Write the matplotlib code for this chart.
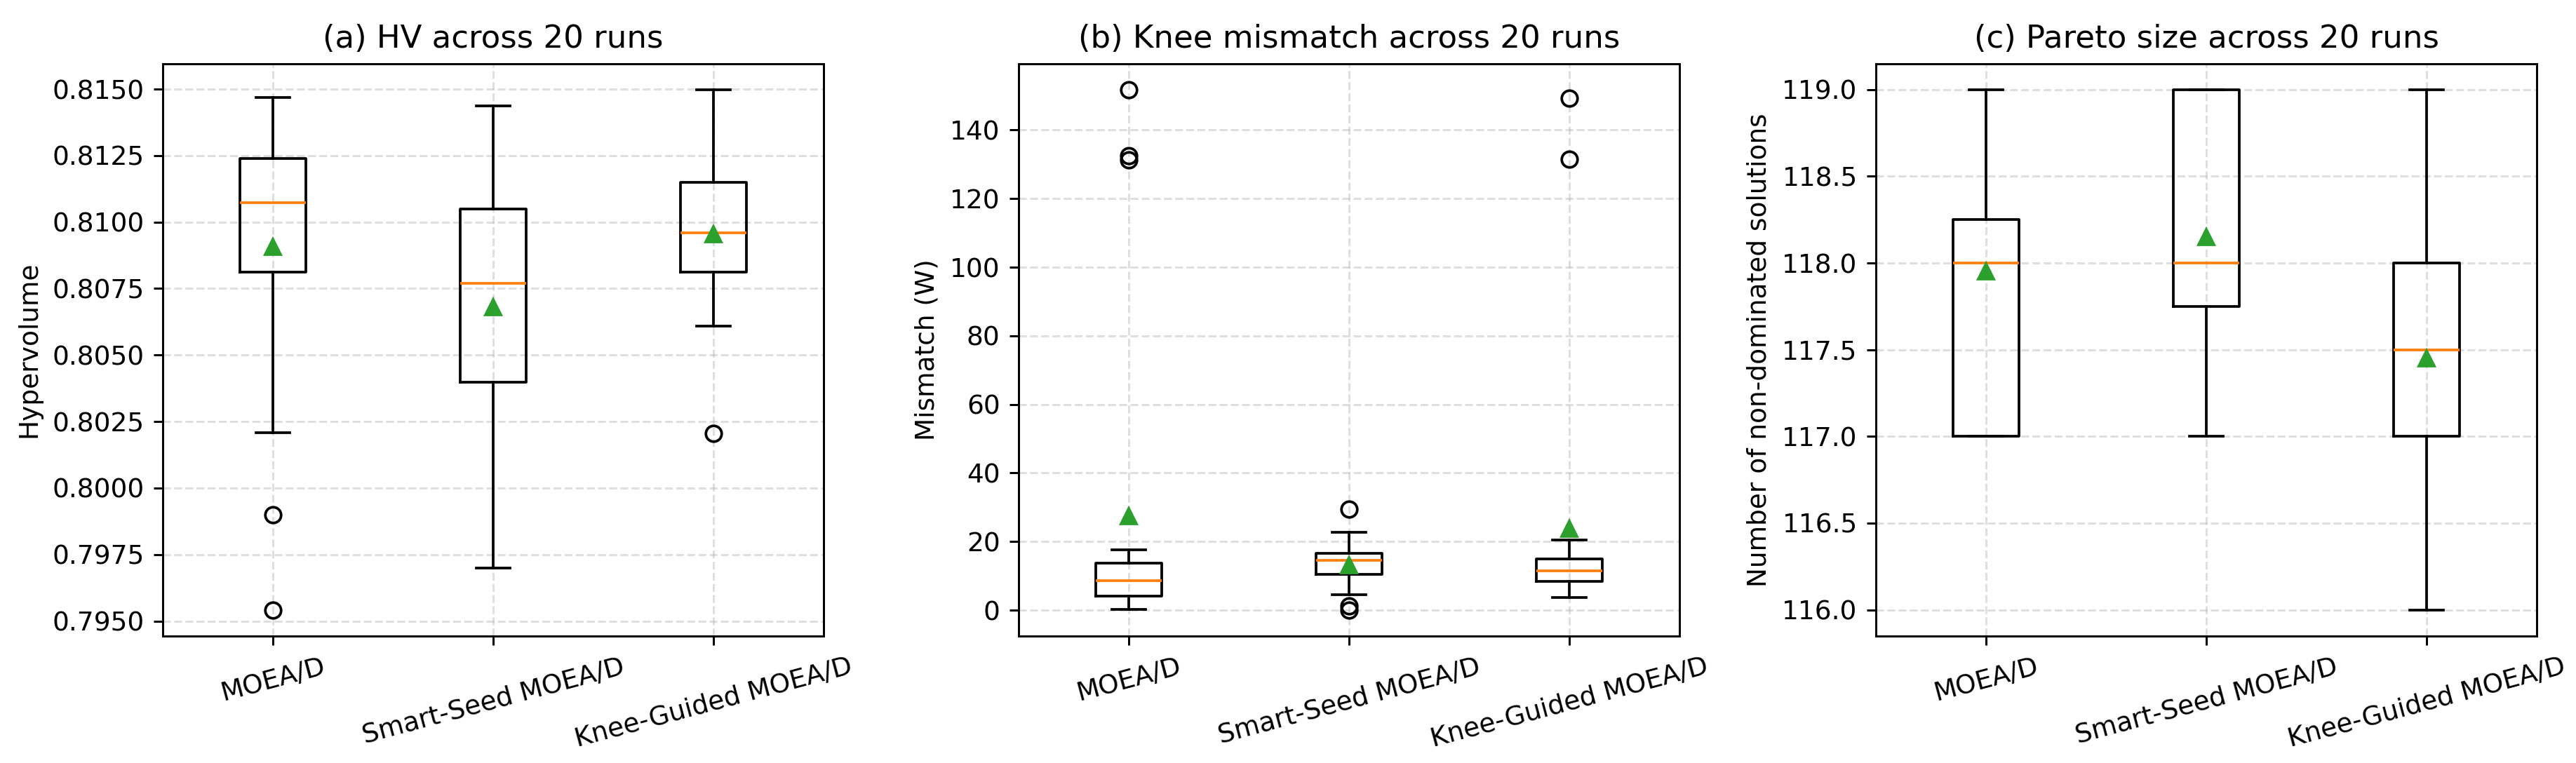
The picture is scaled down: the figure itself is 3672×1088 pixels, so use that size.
import matplotlib
matplotlib.use("Agg")
import matplotlib.pyplot as plt

methods = ["MOEA/D", "Smart-Seed MOEA/D", "Knee-Guided MOEA/D"]

# (a) Hypervolume
hv_whislo = [0.80209, 0.79698, 0.80608]
hv_q1 = [0.80813, 0.80398, 0.80813]
hv_med = [0.81072, 0.80771, 0.80959]
hv_q3 = [0.81239, 0.81048, 0.81149]
hv_whishi = [0.81469, 0.81436, 0.81498]
hv_mean = [0.80906, 0.80681, 0.80955]
hv_fliers = [[0.79900, 0.79542], [], [0.80206]]

# (b) Knee mismatch (W)
mm_whislo = [0.3, 4.5, 3.8]
mm_q1 = [4.1, 10.5, 8.5]
mm_med = [8.7, 14.5, 11.5]
mm_q3 = [13.8, 16.5, 15.0]
mm_whishi = [17.7, 22.7, 20.4]
mm_mean = [27.4, 13.2, 23.8]
mm_fliers = [[151.8, 132.5, 131.3], [29.5, 1.2, 0.1], [149.4, 131.5]]

# (c) Pareto size
ps_whislo = [117.0, 117.0, 116.0]
ps_q1 = [117.0, 117.75, 117.0]
ps_med = [118.0, 118.0, 117.5]
ps_q3 = [118.25, 119.0, 118.0]
ps_whishi = [119.0, 119.0, 119.0]
ps_mean = [117.95, 118.15, 117.45]
ps_fliers = [[], [], []]

titles = ["(a) HV across 20 runs", "(b) Knee mismatch across 20 runs",
          "(c) Pareto size across 20 runs"]
ylabels = ["Hypervolume", "Mismatch (W)", "Number of non-dominated solutions"]

panels = [
    (hv_whislo, hv_q1, hv_med, hv_q3, hv_whishi, hv_mean, hv_fliers),
    (mm_whislo, mm_q1, mm_med, mm_q3, mm_whishi, mm_mean, mm_fliers),
    (ps_whislo, ps_q1, ps_med, ps_q3, ps_whishi, ps_mean, ps_fliers),
]

DPI = 270
fig = plt.figure(figsize=(3672 / DPI, 1088 / DPI), dpi=DPI)
lefts = [232 / 3672, 1452 / 3672, 2674 / 3672]
W = 942 / 3672
B = (1088 - 906.7) / 1088
H = 816 / 1088

for i, (lo, q1, med, q3, hi, mean, fl) in enumerate(panels):
    ax = fig.add_axes([lefts[i], B, W, H])
    stats = []
    for j in range(3):
        stats.append(dict(label=methods[j], whislo=lo[j], q1=q1[j], med=med[j],
                          q3=q3[j], whishi=hi[j], mean=mean[j], fliers=fl[j]))
    ax.bxp(stats, showmeans=True)
    ax.set_title(titles[i], fontsize=12)
    ax.set_ylabel(ylabels[i], fontsize=10)
    ax.grid(True, linestyle="--", alpha=0.4)
    plt.setp(ax.get_xticklabels(), rotation=15)

fig.savefig("out.png", dpi=DPI)
